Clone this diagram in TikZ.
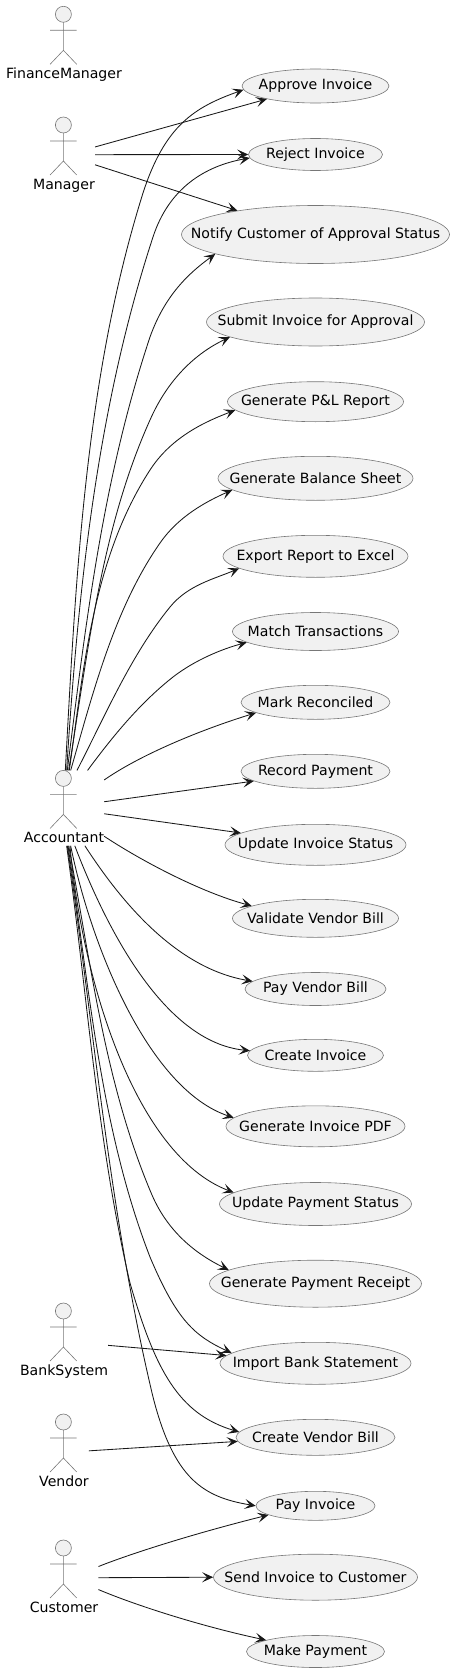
\documentclass[tikz,border=0pt]{standalone}
\usepackage{fontspec}
\setmainfont{DejaVu Sans}
\usetikzlibrary{arrows.meta,shapes.geometric}
\definecolor{umlline}{HTML}{181818}
\definecolor{umledge}{HTML}{777777}
\definecolor{umlfill}{HTML}{F1F1F1}
\tikzset{
    stick/.pic={
        \draw[umledge, line width=0.6pt, fill=umlfill] (0,8) circle (8pt);
        \draw[umledge, line width=0.6pt] (0,16) -- (0,44) (-13.3,24) -- (13.3,24) (-13.3,58) -- (0,44) -- (13.3,58);
    }
}
\begin{document}
\begin{tikzpicture}[
        x=1pt, y=-1pt,
        actorbox/.style={rectangle, inner sep=0pt, anchor=north, text height=72pt, text depth=3pt, font=\fontsize{14.1}{17}\selectfont},
        usecase/.style={ellipse, draw=umledge, line width=0.6pt, fill=umlfill, inner sep=0pt},
        every label/.style={font=\fontsize{14.1}{17}\selectfont, inner sep=0pt},
        arrow/.style={-{Stealth[length=11pt, width=10pt, inset=5pt]}, line width=0.85pt, umlline}
    ]
        \useasboundingbox (0,0) rectangle (453,1672);

        % actors
        \node[actorbox] (finance) at (64,6.3) {FinanceManager};
        \node[actorbox] (manager) at (64,117) {Manager};
        \node[actorbox] (accountant) at (64,770.4) {Accountant};
        \node[actorbox] (bank) at (64,1303) {BankSystem};
        \node[actorbox] (vendor) at (64,1414) {Vendor};
        \node[actorbox] (customer) at (64,1540) {Customer};
        \pic at (63.4,6.3) {stick};
        \pic at (63.4,117) {stick};
        \pic at (63.4,770.4) {stick};
        \pic at (63.4,1303) {stick};
        \pic at (63.4,1414) {stick};
        \pic at (63.4,1540) {stick};

        % use cases
        \node[usecase, minimum width=147pt, minimum height=34pt, label=center:Approve Invoice] (approve) at (315.5,86) {};
        \node[usecase, minimum width=134pt, minimum height=32pt, label=center:Reject Invoice] (reject) at (315.5,154.5) {};
        \node[usecase, minimum width=268pt, minimum height=58pt, label=center:Notify Customer of Approval Status] (notify) at (315.5,234.5) {};
        \node[usecase, minimum width=218pt, minimum height=48pt, label=center:Submit Invoice for Approval] (submit) at (315.5,322) {};
        \node[usecase, minimum width=176pt, minimum height=40pt, label=center:Generate P\&L Report] (pnl) at (315.5,401.7) {};
        \node[usecase, minimum width=195pt, minimum height=44pt, label=center:Generate Balance Sheet] (balance) at (315.5,478.3) {};
        \node[usecase, minimum width=185pt, minimum height=42pt, label=center:Export Report to Excel] (export) at (315.5,556.3) {};
        \node[usecase, minimum width=166pt, minimum height=38pt, label=center:Match Transactions] (match) at (315.5,631.5) {};
        \node[usecase, minimum width=149pt, minimum height=34pt, label=center:Mark Reconciled] (mark) at (315.5,702.3) {};
        \node[usecase, minimum width=149pt, minimum height=34pt, label=center:Record Payment] (record) at (315.5,771.3) {};
        \node[usecase, minimum width=181pt, minimum height=41pt, label=center:Update Invoice Status] (updinv) at (315.5,844.8) {};
        \node[usecase, minimum width=166pt, minimum height=38pt, label=center:Validate Vendor Bill] (validate) at (315.5,918.3) {};
        \node[usecase, minimum width=141pt, minimum height=33pt, label=center:Pay Vendor Bill] (payvendor) at (315.5,989) {};
        \node[usecase, minimum width=136pt, minimum height=32pt, label=center:Create Invoice] (createinv) at (315.5,1055.3) {};
        \node[usecase, minimum width=179pt, minimum height=41pt, label=center:Generate Invoice PDF] (invpdf) at (315.5,1126.3) {};
        \node[usecase, minimum width=192pt, minimum height=43pt, label=center:Update Payment Status] (updpay) at (315.5,1204) {};
        \node[usecase, minimum width=212pt, minimum height=47pt, label=center:Generate Payment Receipt] (receipt) at (315.5,1283.7) {};
        \node[usecase, minimum width=191pt, minimum height=42pt, label=center:Import Bank Statement] (import) at (315.5,1363.3) {};
        \node[usecase, minimum width=159pt, minimum height=36pt, label=center:Create Vendor Bill] (createbill) at (315.5,1437.3) {};
        \node[usecase, minimum width=119pt, minimum height=29pt, label=center:Pay Invoice] (payinv) at (315.5,1505.8) {};
        \node[usecase, minimum width=204pt, minimum height=46pt, label=center:Send Invoice to Customer] (send) at (315.5,1577.2) {};
        \node[usecase, minimum width=138pt, minimum height=32pt, label=center:Make Payment] (makepay) at (315.5,1651.5) {};

        % straight links
        \draw[arrow] (manager.14) -- (approve.195);
        \draw[arrow] (manager.0) -- (reject.180);
        \draw[arrow] (manager.-18) -- (notify.163);
        \draw[arrow] (bank.-6) -- (import.175);
        \draw[arrow] (vendor.2) -- (createbill.183);
        \draw[arrow] (customer.0) -- (send.180);
        \draw[arrow] (accountant.9) -- (record.189);
        \draw[arrow] (accountant.-8) -- (updinv.171);

        % slightly bent links
        \draw[arrow] (customer.18) .. controls (135,1552) and (200,1532) .. (payinv.191);
        \draw[arrow] (customer.-19) .. controls (135,1605) and (200,1626) .. (makepay.167);

        % accountant, upwards
        \draw[arrow] (accountant.88) .. controls (76,576) and (85,378) .. (143,193) .. controls (165,125) and (195,107) .. (approve.183);
        \draw[arrow] (accountant.86) .. controls (78,590) and (97,408) .. (153,237) .. controls (169,188) and (205,166) .. (reject.183);
        \draw[arrow] (accountant.85) .. controls (86,621) and (103,478) .. (150,337) .. controls (165,295) and (189,273) .. (notify.191);
        \draw[arrow] (accountant.83) .. controls (88,652) and (101,529) .. (150,420) .. controls (168,379) and (196,353) .. (submit.190);
        \draw[arrow] (accountant.82) .. controls (84,666) and (93,558) .. (150,470) .. controls (172,436) and (207,421) .. (pnl.186);
        \draw[arrow] (accountant.80) .. controls (93,693) and (114,609) .. (160,543) .. controls (178,517) and (205,502) .. (balance.188);
        \draw[arrow] (accountant.71) .. controls (105.5,715) and (131,655) .. (170,607) .. controls (188,585) and (214,579) .. (export.189);
        \draw[arrow] (accountant.58) .. controls (113,736) and (140,703) .. (173,677) .. controls (195,660) and (222,649) .. (match.189);
        \draw[arrow] (accountant.35) .. controls (140,755) and (200,730) .. (mark.190);

        % accountant, downwards
        \draw[arrow] (accountant.-35) .. controls (140,860) and (200,892) .. (validate.169);
        \draw[arrow] (accountant.-61) .. controls (120,900) and (175,968) .. (payvendor.173);
        \draw[arrow] (accountant.-74) .. controls (105,925) and (163,1042) .. (createinv.176);
        \draw[arrow] (accountant.-80) .. controls (92,950) and (150,1090) .. (invpdf.174);
        \draw[arrow] (accountant.-81) .. controls (82,980) and (135,1155) .. (updpay.172);
        \draw[arrow] (accountant.-83) .. controls (91,964) and (105,1085) .. (152,1195) .. controls (168,1232) and (196,1254) .. (receipt.171);
        \draw[arrow] (accountant.-84) .. controls (89,985) and (100,1128) .. (150,1257) .. controls (177,1321) and (195,1336) .. (import.173);
        \draw[arrow] (accountant.-86) .. controls (87,992) and (97,1141) .. (130,1283) .. controls (155,1369) and (178,1414) .. (createbill.176);
        \draw[arrow] (accountant.-85) .. controls (94,1030) and (110,1217) .. (153,1397) .. controls (174,1479) and (203,1497) .. (payinv.180);
    \end{tikzpicture}
\end{document}
